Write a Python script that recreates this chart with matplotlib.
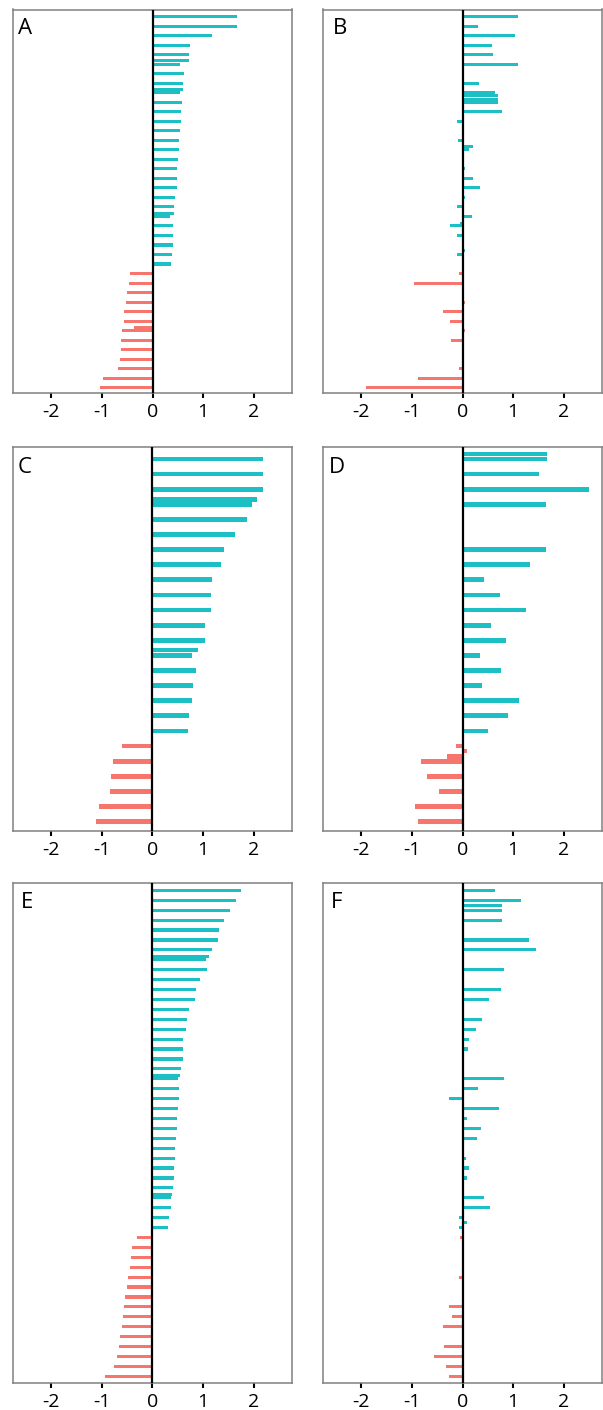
import matplotlib
matplotlib.use("Agg")
import matplotlib.pyplot as plt

plt.rcParams['font.family'] = ['Open Sans', 'DejaVu Sans']
plt.rcParams['axes.unicode_minus'] = False

# ---- data: row position (top = 0) and value for each panel ----
a_pos = [0, 1, 2, 3, 4, 4.65, 5, 6, 7, 7.65, 8, 9, 10, 11, 12, 13, 14, 15, 16, 17, 18, 19, 20, 20.65,
         21, 22, 23, 24, 25, 26, 27, 28, 29, 30, 31, 32, 32.65, 33, 34, 35, 36, 37, 38, 39]
a_val = [1.67, 1.66, 1.18, 0.73, 0.72, 0.71, 0.54, 0.62, 0.61, 0.60, 0.54, 0.58, 0.56, 0.56, 0.54, 0.53,
         0.52, 0.50, 0.49, 0.48, 0.48, 0.45, 0.43, 0.43, 0.35, 0.41, 0.40, 0.40, 0.38, 0.36,
         -0.45, -0.46, -0.50, -0.52, -0.56, -0.56, -0.37, -0.60, -0.62, -0.63, -0.65, -0.68, -0.97, -1.04]

b_pos = [0, 1, 2, 3, 4, 5, 7, 8, 8.33, 8.67, 9, 10, 11, 13, 13.6, 14, 16, 17, 18, 19, 20, 21, 21.7,
         22, 23, 24, 24.55, 25, 27, 28, 30, 31, 32, 33, 34, 37, 38, 39]
b_val = [1.10, 0.31, 1.04, 0.59, 0.61, 1.10, 0.33, 0.64, 0.71, 0.71, 0.71, 0.79, -0.10, -0.08, 0.20,
         0.12, 0.05, 0.20, 0.34, 0.04, -0.10, 0.18, -0.05, -0.24, -0.10, -0.01, 0.05, -0.10,
         -0.07, -0.96, 0.04, -0.39, -0.25, 0.05, -0.22, -0.07, -0.87, -1.91]

c_pos = [0, 1, 2, 2.67, 3, 4, 5, 6, 7, 8, 9, 10, 11, 12, 12.64, 13, 14, 15, 16, 17, 18,
         19, 20, 21, 22, 23, 24]
c_val = [2.18, 2.18, 2.18, 2.07, 1.96, 1.86, 1.63, 1.42, 1.36, 1.17, 1.15, 1.15, 1.04, 1.04, 0.90,
         0.78, 0.87, 0.81, 0.79, 0.73, 0.70, -0.59, -0.77, -0.82, -0.83, -1.05, -1.12]

d_pos = [-0.33, 0, 1, 2, 3, 6, 7, 8, 9, 10, 11, 12, 13, 14, 15, 16, 17, 18, 19, 19.33, 19.67,
         20, 21, 22, 23, 24]
d_val = [1.67, 1.67, 1.52, 2.50, 1.65, 1.64, 1.34, 0.43, 0.75, 1.25, 0.56, 0.85, 0.35, 0.76, 0.38,
         1.11, 0.90, 0.50, -0.12, 0.08, -0.31, -0.82, -0.70, -0.47, -0.93, -0.87]

e_pos = [0, 1, 2, 3, 4, 5, 6, 6.67, 7, 8, 9, 10, 11, 12, 13, 14, 15, 16, 17, 18, 18.67, 19, 20, 21,
         22, 23, 24, 25, 26, 27, 28, 29, 30, 30.67, 31, 32, 33, 34, 35, 36, 37, 38, 39, 40, 41, 42,
         43, 44, 45, 46, 47, 48, 49]
e_val = [1.74, 1.65, 1.54, 1.41, 1.32, 1.29, 1.18, 1.12, 1.06, 1.08, 0.95, 0.87, 0.85, 0.73, 0.68,
         0.66, 0.61, 0.60, 0.60, 0.56, 0.55, 0.50, 0.53, 0.52, 0.51, 0.48, 0.48, 0.47, 0.45, 0.45,
         0.43, 0.43, 0.40, 0.38, 0.36, 0.36, 0.33, 0.31, -0.31, -0.41, -0.43, -0.45, -0.49, -0.50,
         -0.54, -0.55, -0.57, -0.60, -0.63, -0.66, -0.69, -0.76, -0.94]

f_pos = [0, 1, 1.5, 2, 3, 5, 6, 8, 10, 11, 13, 14, 15, 16, 19, 20, 21, 22, 23, 24, 25, 27, 28, 29,
         31, 32, 33, 33.5, 34, 35, 36, 39, 42, 43, 44, 46, 47, 48, 49]
f_val = [0.64, 1.16, 0.79, 0.79, 0.79, 1.32, 1.45, 0.81, 0.77, 0.53, 0.39, 0.27, 0.13, 0.10, 0.81,
         0.30, -0.26, 0.72, 0.09, 0.37, 0.28, 0.07, 0.12, 0.08, 0.43, 0.54, -0.06, 0.08, -0.07,
         -0.04, 0.03, -0.07, -0.26, -0.20, -0.39, -0.37, -0.56, -0.33, -0.27]

labels = ['A', 'B', 'C', 'D', 'E', 'F']
x_ticks = [-2, -1, 0, 1, 2]

TEAL = '#1CBFC4'
SALMON = '#F6766D'

W, H = 603, 1410
fig = plt.figure(figsize=(W / 100, H / 100), dpi=100)


def px_axes(x0, y0, x1, y1):
    return fig.add_axes([x0 / W, 1 - y1 / H, (x1 - x0) / W, (y1 - y0) / H])


def colour_for(p, ref_pos, ref_val):
    # bar colour follows the sign of the left-hand panel for the same row
    i = min(range(len(ref_pos)), key=lambda k: abs(ref_pos[k] - p))
    return TEAL if ref_val[i] >= 0 else SALMON


panels = [
    (a_pos, a_val, a_pos, a_val, (13, 9.5, 292, 392.7), (39.53, -0.76), (17.5, 34)),
    (b_pos, b_val, a_pos, a_val, (323.3, 9.5, 601.7, 392.7), (39.53, -0.76), (333, 34)),
    (c_pos, c_val, c_pos, c_val, (13, 446.7, 291.7, 830.7), (24.6, -0.81), (17.5, 473)),
    (d_pos, d_val, c_pos, c_val, (323.3, 446.7, 601.7, 830.7), (24.6, -0.81), (329, 473)),
    (e_pos, e_val, e_pos, e_val, (13, 883.3, 291.7, 1383), (49.68, -0.71), (20.5, 908)),
    (f_pos, f_val, e_pos, e_val, (323.3, 883.3, 601.7, 1383), (49.68, -0.71), (331, 908)),
]

for lab, (pos, val, rpos, rval, box, ylim, lxy) in zip(labels, panels):
    ax = px_axes(*box)
    cols = [colour_for(p, rpos, rval) for p in pos]
    ax.barh(pos, val, height=0.32, color=cols, linewidth=0)
    ax.axvline(0, color='black', linewidth=1.6, zorder=3)
    ax.set_xlim(-2.75, 2.75)
    ax.set_ylim(*ylim)
    ax.set_xticks(x_ticks)
    ax.set_xticklabels([str(t) for t in x_ticks])
    ax.set_yticks([])
    ax.tick_params(axis='x', length=3.5, width=1.5, color='black', pad=4, labelsize=14)
    for s in ax.spines.values():
        s.set_color('#808080')
        s.set_linewidth(1.1)
    fig.text(lxy[0] / W, 1 - lxy[1] / H, lab, fontsize=16, ha='left', va='baseline')

fig.savefig('out.png', dpi=100)
